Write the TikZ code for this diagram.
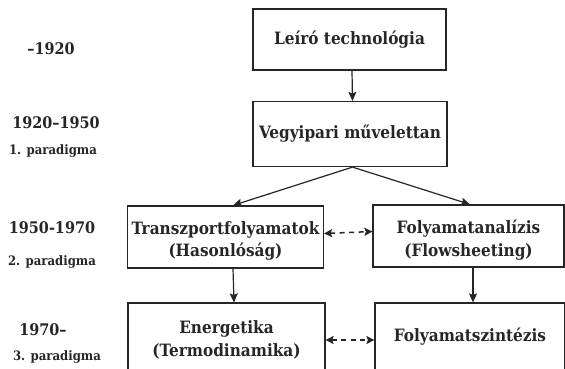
\documentclass[tikz,border=0pt]{standalone}
\usepackage{fontspec}
\setmainfont{DejaVu Serif Condensed}
\usetikzlibrary{arrows.meta}
\definecolor{ink}{HTML}{262626}
\begin{document}
\begin{tikzpicture}[x=1pt,y=-1pt,
  every node/.style={text=ink, font=\bfseries\fontsize{16}{22}\selectfont},
  box/.style={draw=ink, line width=1.2pt, align=center, inner sep=0pt,
    font=\bfseries\fontsize{17}{22.5}\selectfont},
  inbox/.style={align=center, inner sep=0pt, yshift=-4pt,
    font=\bfseries\fontsize{17}{22.5}\selectfont},
  era/.style={inner sep=0pt},
  para/.style={inner sep=0pt, font=\bfseries\fontsize{13}{18}\selectfont},
  flow/.style={draw=ink, line width=1.2pt, -{Stealth[length=9pt,width=8pt,inset=1.5pt]}},
  link/.style={draw=ink, line width=1.5pt, dash pattern=on 5pt off 4.5pt,
    {Stealth[length=8pt,width=8pt,inset=1.5pt]}-{Stealth[length=8pt,width=8pt,inset=1.5pt]}}]
\fill[white] (0,0) rectangle (565,368);
\clip (0,0) rectangle (565,368);

% boxes of the development line
\node[box, minimum width=193pt, minimum height=61pt] (b1) at (349.5,39.5) {Leíró technológia};
\node[box, minimum width=194pt, minimum height=65pt] (b2) at (350,134) {Vegyipari művelettan};
\node[box, minimum width=196pt, minimum height=62pt,
  label={[inbox]center:{Transzportfolyamatok\\(Hasonlóság)}}] (b3) at (225.5,237) {};
\node[box, minimum width=191pt, minimum height=62pt,
  label={[inbox]center:{Folyamatanalízis\\(Flowsheeting)}}] (b4) at (468.5,236) {};
\node[box, minimum width=197pt, minimum height=68pt,
  label={[inbox, yshift=1pt]center:{Energetika\\(Termodinamika)}}] (b5) at (226.5,337) {};
\node[box, minimum width=190pt, minimum height=68pt] (b6) at (470,337) {Folyamatszintézis};

% periods on the left
\node[era] (e1) at (51,49) {–1920};
\node[era] (e2) at (56,123) {1920–1950};
\node[para] (p1) at (53,151) {1. paradigma};
\node[era] (e3) at (52,228) {1950-1970};
\node[para] (p2) at (52,262) {2. paradigma};
\node[era] (e4) at (43,330) {1970–};
\node[para] (p3) at (57,357) {3. paradigma};

% connectors
\coordinate (split) at ([xshift=2.5pt]b2.south);
\draw[flow] ([xshift=2.5pt]b1.south) -- ([xshift=2.5pt]b2.north);
\draw[flow] (split) -- ([xshift=7.5pt]b3.north);
\draw[flow] (split) -- ([xshift=1.5pt]b4.north);
\draw[flow] ([xshift=7.5pt]b3.south) -- ([xshift=7.5pt]b5.north);
\draw[flow] ([xshift=4.5pt]b4.south) -- ([xshift=3pt]b6.north);
\draw[link] ([yshift=3.5pt]b3.east) -- ([yshift=4.5pt]b4.west);
\draw[link] ([yshift=-3pt]b5.east) -- ([yshift=-3pt]b6.west);
\end{tikzpicture}
\end{document}
